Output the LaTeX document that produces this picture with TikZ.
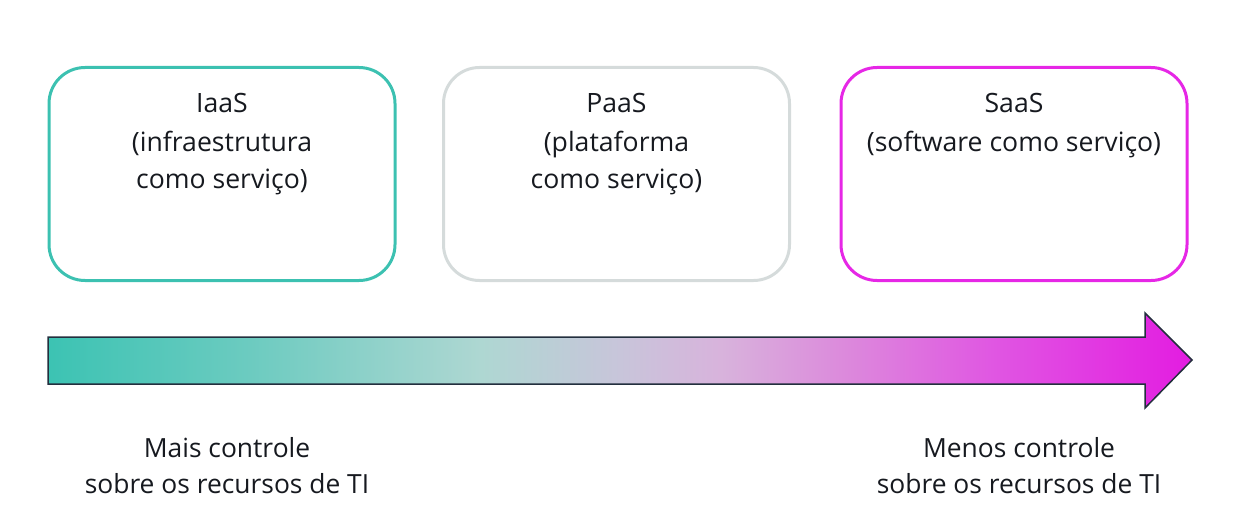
\documentclass[tikz,border=0pt]{standalone}
\usepackage{fontspec}
\setmainfont{Open Sans}
\definecolor{ink}{HTML}{16191F}
\definecolor{tealc}{HTML}{3CC1B1}
\definecolor{grayc}{HTML}{D5DBDB}
\definecolor{magc}{HTML}{E627E6}
\definecolor{outl}{HTML}{232F3E}
\definecolor{g1}{HTML}{3CC3B3}
\definecolor{g2}{HTML}{6CCBC0}
\definecolor{g3}{HTML}{AED7D2}
\definecolor{g4}{HTML}{C8C5DA}
\definecolor{g5}{HTML}{D8B3DC}
\definecolor{g6}{HTML}{DC88DC}
\definecolor{g7}{HTML}{E055E2}
\definecolor{g8}{HTML}{E31CE1}
\pgfdeclarehorizontalshading{arrowgrad}{100bp}{color(0bp)=(g1); color(25bp)=(g1); color(33.8bp)=(g2); color(43.9bp)=(g3); color(50bp)=(g4); color(54.4bp)=(g5); color(60bp)=(g6); color(66.5bp)=(g7); color(75bp)=(g8); color(100bp)=(g8)}
\tikzset{
  card/.style={draw, line width=3pt, rounded corners=36pt, minimum width=346pt, minimum height=213pt, inner sep=0pt},
  boxtxt/.style={anchor=base, inner sep=0pt, text=ink, font=\fontsize{26.6}{32}\selectfont},
  lowtxt/.style={anchor=base, inner sep=0pt, text=ink, font=\fontsize{26.4}{32}\selectfont},
}
\begin{document}
\begin{tikzpicture}[x=1pt,y=-1pt]
\useasboundingbox (0,0) rectangle (1258,524);
% cards
\node[card, draw=tealc] (iaas) at (222,174) {};
\node[card, draw=grayc] (paas) at (616.5,174) {};
\node[card, draw=magc] (saas) at (1014,174) {};
% card texts
\node[boxtxt] (iaas1) at (222,113) {IaaS};
\node[boxtxt] (iaas2) at (222,152) {(infraestrutura};
\node[boxtxt] (iaas3) at (222,188) {como serviço)};
\node[boxtxt] (paas1) at (616.5,113) {PaaS};
\node[boxtxt] (paas2) at (616.5,152) {(plataforma};
\node[boxtxt] (paas3) at (616.5,188) {como serviço)};
\node[boxtxt] (saas1) at (1014,113) {SaaS};
\node[boxtxt] (saas2) at (1014,152) {(software como serviço)};
% arrow
\draw[outl, line width=1.5pt, shading=arrowgrad, line join=miter]
  (48,337) -- (1145,337) -- (1145,313) -- (1192,360) -- (1145,408) -- (1145,384) -- (48,384) -- cycle;
% bottom texts
\node[lowtxt] (more1) at (227,457) {Mais controle};
\node[lowtxt] (more2) at (227,493) {sobre os recursos de TI};
\node[lowtxt] (less1) at (1019,457) {Menos controle};
\node[lowtxt] (less2) at (1019,493) {sobre os recursos de TI};
\end{tikzpicture}
\end{document}
